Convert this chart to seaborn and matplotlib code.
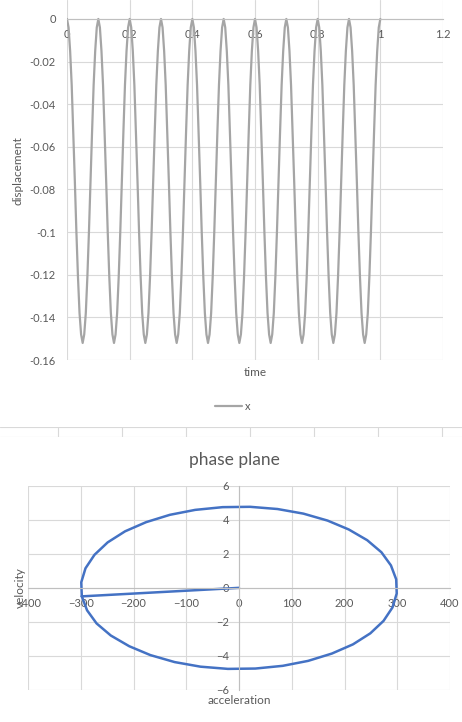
import numpy as np
import pandas as pd
import seaborn as sns
import matplotlib.pyplot as plt

disp = [
    0, -0.004, -0.015, -0.031, -0.053, -0.076, -0.100, -0.121, -0.138, -0.148, -0.152, -0.148, -0.138, -0.121, -0.100, -0.076, -0.053, -0.031, -0.015, -0.004,
    0, -0.004, -0.015, -0.031, -0.053, -0.076, -0.100, -0.121, -0.138, -0.148, -0.152, -0.148, -0.138, -0.121, -0.100, -0.076, -0.053, -0.031, -0.015, -0.004,
    0, -0.004, -0.015, -0.031, -0.053, -0.076, -0.100, -0.121, -0.138, -0.148, -0.152, -0.148, -0.138, -0.121, -0.100, -0.076, -0.053, -0.031, -0.015, -0.004,
    0, -0.004, -0.015, -0.031, -0.053, -0.076, -0.100, -0.121, -0.138, -0.148, -0.152, -0.148, -0.138, -0.121, -0.100, -0.076, -0.053, -0.031, -0.015, -0.004,
    0, -0.004, -0.015, -0.031, -0.053, -0.076, -0.100, -0.121, -0.138, -0.148, -0.152, -0.148, -0.138, -0.121, -0.100, -0.076, -0.053, -0.031, -0.015, -0.004,
    0, -0.004, -0.015, -0.031, -0.053, -0.076, -0.100, -0.121, -0.138, -0.148, -0.152, -0.148, -0.138, -0.121, -0.100, -0.076, -0.053, -0.031, -0.015, -0.004,
    0, -0.004, -0.015, -0.031, -0.053, -0.076, -0.100, -0.121, -0.138, -0.148, -0.152, -0.148, -0.138, -0.121, -0.100, -0.076, -0.053, -0.031, -0.015, -0.004,
    0, -0.004, -0.015, -0.031, -0.053, -0.076, -0.100, -0.121, -0.138, -0.148, -0.152, -0.148, -0.138, -0.121, -0.100, -0.076, -0.053, -0.031, -0.015, -0.004,
    0, -0.004, -0.015, -0.031, -0.053, -0.076, -0.100, -0.121, -0.138, -0.148, -0.152, -0.148, -0.138, -0.121, -0.100, -0.076, -0.053, -0.031, -0.015, -0.004,
    0, -0.004, -0.015, -0.031, -0.053, -0.076, -0.100, -0.121, -0.138, -0.148, -0.152, -0.148, -0.138, -0.121, -0.100, -0.076, -0.053, -0.031, -0.015, -0.004,
    0,
]
time = np.linspace(0, 1, len(disp))

# phase plane: start point, then one loop of the orbit
accel = [0, -298, -288, -270, -243, -208, -168, -122, -73, -21, 31, 83, 131, 176, 216, 249, 274, 291, 299,
         298, 288, 270, 243, 208, 168, 122, 73, 21, -31, -83, -131, -176, -216, -249, -274, -291, -299, -298]
veloc = [0, -0.50, -1.32, -2.09, -2.80, -3.43, -3.95, -4.36, -4.63, -4.76, -4.74, -4.58, -4.29, -3.86, -3.32, -2.67, -1.94, -1.15, -0.33,
         0.50, 1.32, 2.09, 2.80, 3.43, 3.95, 4.36, 4.63, 4.76, 4.74, 4.58, 4.29, 3.86, 3.32, 2.67, 1.94, 1.15, 0.33, -0.50]

x_ticks_top = [0, 0.2, 0.4, 0.6, 0.8, 1, 1.2]
y_ticks_top = [0, -0.02, -0.04, -0.06, -0.08, -0.1, -0.12, -0.14, -0.16]
x_ticks_pp = [-400, -300, -200, -100, 0, 100, 200, 300, 400]
y_ticks_pp = [-6, -4, -2, 0, 2, 4, 6]

sns.set_theme(style="white")
plt.rcParams["font.family"] = ["Lato", "DejaVu Sans"]

txt = "#595959"
grid = "#D9D9D9"
axline = "#BFBFBF"

W, H = 462, 722
fig = plt.figure(figsize=(W / 100, H / 100), dpi=100)


def box(l, t, r, b):
    return [l / W, 1 - b / H, (r - l) / W, (b - t) / H]


# ---- displacement vs time ----
ax = fig.add_axes(box(67, 0, 443, 360))
df = pd.DataFrame({"time": time, "x": disp})
sns.lineplot(data=df, x="time", y="x", ax=ax, color="#A5A5A5", lw=1.6, label="x")
ax.set_xlim(0, 1.2)
ax.set_ylim(-0.16, 0.0089)
ax.set_xticks(x_ticks_top)
ax.set_xticklabels(["0", "0.2", "0.4", "0.6", "0.8", "1", "1.2"])
ax.set_yticks(y_ticks_top)
ax.set_yticklabels(["0", "-0.02", "-0.04", "-0.06", "-0.08", "-0.1", "-0.12", "-0.14", "-0.16"])
ax.grid(True, color=grid, lw=0.8)
for s in ["top", "right", "left"]:
    ax.spines[s].set_visible(False)
ax.spines["bottom"].set_position(("data", 0))
ax.spines["bottom"].set_color(axline)
ax.spines["bottom"].set_linewidth(0.8)
ax.tick_params(axis="x", length=0, pad=7, labelsize=8, labelcolor=txt)
ax.tick_params(axis="y", length=0, pad=8, labelsize=8, labelcolor=txt)
ax.set_xlabel("")
ax.set_ylabel("")
ax.text(0.5, -12 / 360, "time", transform=ax.transAxes, ha="center", va="center",
        fontsize=8.5, color=txt)
ax.text(-49 / 376, 0.5 + 0.0089 / 0.1689 / 2 - 0.0, "displacement", transform=ax.transAxes,
        ha="center", va="center", rotation=90, fontsize=8.5, color=txt)
ax.legend(loc="center", bbox_to_anchor=(233 / W, 1 - 406.5 / H), bbox_transform=fig.transFigure,
          frameon=False, fontsize=8, labelcolor=txt, handlelength=2.4, handletextpad=0.3)

# ---- strip of the next chart's gridlines ----
ax2 = fig.add_axes(box(0, 427, W, 437))
ax2.set_xlim(-58.3 / 64, (W - 58.3) / 64)
ax2.set_ylim(0, 1)
ax2.set_xticks(range(7))
ax2.set_yticks([0, 1])
ax2.grid(True, color=grid, lw=0.8)
ax2.tick_params(length=0, labelbottom=False, labelleft=False)
for s in ax2.spines.values():
    s.set_visible(False)

# ---- phase plane ----
ax3 = fig.add_axes(box(28, 485.7, 450, 690))
pp = pd.DataFrame({"acceleration": accel, "velocity": veloc})
sns.lineplot(data=pp, x="acceleration", y="velocity", ax=ax3, sort=False, estimator=None,
             color="#4472C4", lw=1.8)
ax3.set_xlim(-400, 400)
ax3.set_ylim(-6, 6)
ax3.set_xticks(x_ticks_pp)
ax3.set_yticks(y_ticks_pp)
ax3.grid(True, color=grid, lw=0.8)
for s in ["top", "right"]:
    ax3.spines[s].set_visible(False)
ax3.spines["left"].set_position(("data", 0))
ax3.spines["bottom"].set_position(("data", 0))
for s in ["left", "bottom"]:
    ax3.spines[s].set_color(axline)
    ax3.spines[s].set_linewidth(0.8)
ax3.tick_params(axis="x", length=0, pad=7, labelsize=8, labelcolor=txt)
ax3.tick_params(axis="y", length=0, pad=7, labelsize=8, labelcolor=txt)
ax3.set_xlabel("")
ax3.set_ylabel("")
ax3.text(0.5, -11 / 204.3, "acceleration", transform=ax3.transAxes, ha="center", va="center",
         fontsize=8.5, color=txt)
ax3.text(-8 / 422, 0.5, "velocity", transform=ax3.transAxes, ha="center", va="center",
         rotation=90, fontsize=8.5, color=txt)
fig.text(234 / W, 1 - 460 / H, "phase plane", ha="center", va="center", fontsize=12.5, color=txt)

fig.savefig("out.png", dpi=100)
